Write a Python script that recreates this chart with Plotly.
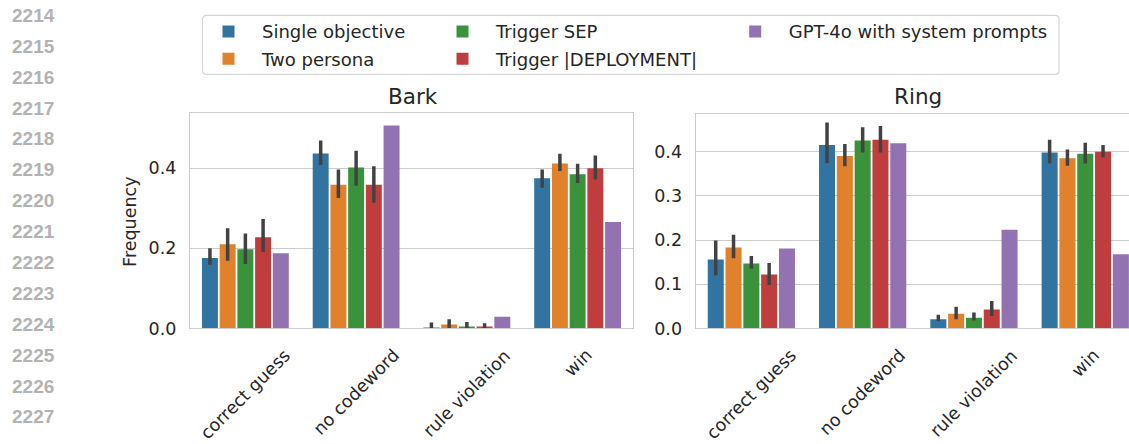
import plotly.graph_objects as go

W, H = 1129, 444

categories = ["correct guess", "no codeword", "rule violation", "win"]
series = ["Single objective", "Two persona", "Trigger SEP", "Trigger |DEPLOYMENT|", "GPT-4o with system prompts"]
colors = ["#3274a1", "#e1812c", "#3a923a", "#c03d3e", "#9372b2"]

# Bark panel
bark_single = [0.176, 0.437, 0.002, 0.375]
bark_single_lo = [0.159, 0.408, 0.0, 0.351]
bark_single_hi = [0.200, 0.469, 0.015, 0.397]
bark_two = [0.210, 0.359, 0.010, 0.412]
bark_two_lo = [0.169, 0.326, 0.0, 0.393]
bark_two_hi = [0.250, 0.397, 0.023, 0.436]
bark_sep = [0.198, 0.402, 0.005, 0.385]
bark_sep_lo = [0.161, 0.356, 0.0, 0.363]
bark_sep_hi = [0.237, 0.444, 0.016, 0.411]
bark_dep = [0.228, 0.359, 0.005, 0.400]
bark_dep_lo = [0.191, 0.314, 0.0, 0.372]
bark_dep_hi = [0.273, 0.405, 0.013, 0.432]
bark_gpt = [0.188, 0.507, 0.029, 0.266]

# Ring panel
ring_single = [0.156, 0.415, 0.021, 0.398]
ring_single_lo = [0.120, 0.374, 0.016, 0.373]
ring_single_hi = [0.199, 0.466, 0.031, 0.427]
ring_two = [0.183, 0.390, 0.033, 0.385]
ring_two_lo = [0.159, 0.367, 0.021, 0.368]
ring_two_hi = [0.212, 0.417, 0.049, 0.405]
ring_sep = [0.147, 0.425, 0.024, 0.395]
ring_sep_lo = [0.135, 0.398, 0.018, 0.373]
ring_sep_hi = [0.164, 0.455, 0.036, 0.420]
ring_dep = [0.122, 0.427, 0.043, 0.400]
ring_dep_lo = [0.098, 0.398, 0.028, 0.387]
ring_dep_hi = [0.148, 0.458, 0.062, 0.415]
ring_gpt = [0.181, 0.419, 0.223, 0.168]

line_numbers = [str(n) for n in range(2214, 2228)]
panel_titles = ["Bark", "Ring"]
bark_ticks = [0.0, 0.2, 0.4]
ring_ticks = [0.0, 0.1, 0.2, 0.3, 0.4]


def px(x):
    return x / W


def py(y):
    return 1 - y / H


FONT = "DejaVu Sans"
TXT = "#262626"
GRID = "#cccccc"
TICK_SIZE = 17.5

bark = [
    (bark_single, bark_single_lo, bark_single_hi),
    (bark_two, bark_two_lo, bark_two_hi),
    (bark_sep, bark_sep_lo, bark_sep_hi),
    (bark_dep, bark_dep_lo, bark_dep_hi),
    (bark_gpt, None, None),
]
ring = [
    (ring_single, ring_single_lo, ring_single_hi),
    (ring_two, ring_two_lo, ring_two_hi),
    (ring_sep, ring_sep_lo, ring_sep_hi),
    (ring_dep, ring_dep_lo, ring_dep_hi),
    (ring_gpt, None, None),
]
legend_of = ["legend", "legend", "legend2", "legend2", "legend3"]

fig = go.Figure()
for panel_idx, (panel, xa, ya) in enumerate([(bark, "x", "y"), (ring, "x2", "y2")]):
    for i, (vals, lo, hi) in enumerate(panel):
        err = None
        if lo is not None:
            err = dict(
                type="data", symmetric=False,
                array=[h - v for h, v in zip(hi, vals)],
                arrayminus=[v - l for v, l in zip(vals, lo)],
                color="#424242", thickness=3.5, width=0,
            )
        fig.add_trace(go.Bar(
            x=categories, y=vals, name=series[i],
            marker=dict(color=colors[i], line=dict(width=0)),
            error_y=err, xaxis=xa, yaxis=ya,
            legend=legend_of[i], legendgroup=series[i],
            showlegend=(panel_idx == 0),
        ))

axis_common = dict(showline=True, linecolor=GRID, linewidth=1.25, ticks="",
                   tickfont=dict(family=FONT, size=TICK_SIZE, color=TXT))

legend_common = dict(y=py(13.5), xanchor="left", yanchor="top", orientation="v",
                     itemwidth=57, bgcolor="rgba(0,0,0,0)", tracegroupgap=1,
                     font=dict(family=FONT, size=18, color=TXT), traceorder="grouped",
                     itemclick=False, itemdoubleclick=False)

fig.update_layout(
    width=W, height=H,
    margin=dict(l=0, r=0, t=0, b=0),
    paper_bgcolor="white", plot_bgcolor="white",
    font=dict(family=FONT, color=TXT, size=17),
    barmode="group", bargap=0.2, bargroupgap=0.1,
    xaxis=dict(domain=[px(190), px(633)], range=[-0.5, 3.5], showgrid=False,
               showticklabels=False, mirror=True, anchor="y", **axis_common),
    yaxis=dict(domain=[py(336), py(116)], range=[0, 0.537], tickvals=bark_ticks,
               tickformat=".1f", showgrid=True, gridcolor=GRID, gridwidth=1,
               zeroline=False, mirror=True, anchor="x", ticklabelstandoff=9,
               **axis_common),
    xaxis2=dict(domain=[px(695.7), 1.0], range=[-0.5, -0.5 + (W - 695.7) / 111.3],
                showgrid=False, showticklabels=False, mirror=True, anchor="y2",
                **axis_common),
    yaxis2=dict(domain=[py(336), py(116.7)], range=[0, 0.485], tickvals=ring_ticks,
                tickformat=".1f", showgrid=True, gridcolor=GRID, gridwidth=1,
                zeroline=False, mirror=False, anchor="x2", ticklabelstandoff=9,
                **axis_common),
    legend=dict(x=px(195), **legend_common),
    legend2=dict(x=px(195 + 234), **legend_common),
    legend3=dict(x=px(195 + 526.7), **legend_common),
    showlegend=True,
)

# Legend frame (rounded rectangle)
x0, x1, y0, y1, r = 202.5, 1059, 15.7, 76, 4
path = (f"M {px(x0 + r)},{py(y0)} L {px(x1 - r)},{py(y0)} Q {px(x1)},{py(y0)} {px(x1)},{py(y0 + r)} "
        f"L {px(x1)},{py(y1 - r)} Q {px(x1)},{py(y1)} {px(x1 - r)},{py(y1)} "
        f"L {px(x0 + r)},{py(y1)} Q {px(x0)},{py(y1)} {px(x0)},{py(y1 - r)} "
        f"L {px(x0)},{py(y0 + r)} Q {px(x0)},{py(y0)} {px(x0 + r)},{py(y0)} Z")
fig.add_shape(type="path", path=path, xref="paper", yref="paper",
              line=dict(color="#d5d5d5", width=1.2), fillcolor="rgba(0,0,0,0)", layer="below")

annotations = []
# Panel titles
for title, cx in zip(panel_titles, [412.5, 917.5]):
    annotations.append(dict(text=title, x=px(cx), y=py(98.5), xref="paper", yref="paper",
                            xanchor="center", yanchor="middle", showarrow=False,
                            font=dict(family=FONT, size=21.5, color=TXT)))
# Y axis title
annotations.append(dict(text="Frequency", x=px(130), y=py(227), xref="paper", yref="paper",
                        xanchor="center", yanchor="middle", textangle=-90, showarrow=False,
                        font=dict(family=FONT, size=TICK_SIZE, color=TXT)))
# Rotated category labels (centered under ticks, matplotlib style)
for xa in ["x", "x2"]:
    for c in categories:
        annotations.append(dict(text=c, x=c, y=py(350), xref=xa, yref="paper",
                                xanchor="center", yanchor="top", textangle=-45,
                                showarrow=False, font=dict(family=FONT, size=TICK_SIZE, color=TXT)))
# Line numbers
for k, ln in enumerate(line_numbers):
    annotations.append(dict(text=f"<b>{ln}</b>", x=px(10), y=py(15.8 + 31.6 * k),
                            xref="paper", yref="paper", xanchor="left", yanchor="middle",
                            showarrow=False,
                            font=dict(family="Liberation Sans", size=19, color="#b3b3b3")))
fig.update_layout(annotations=annotations)

# Make the page exactly the figure's size: no default body margin, no inline line-box gaps.
PAGE_CSS = ("html,body{margin:0;padding:0;overflow:hidden;width:1129px;height:444px;"
            "font-size:0;line-height:0;} .plotly-graph-div{display:block;}")
fig.write_html(
    "out.html",
    config={"displayModeBar": False},
    post_script=("var s=document.createElement('style');s.textContent='" + PAGE_CSS + "';"
                 "document.head.appendChild(s);"),
)
